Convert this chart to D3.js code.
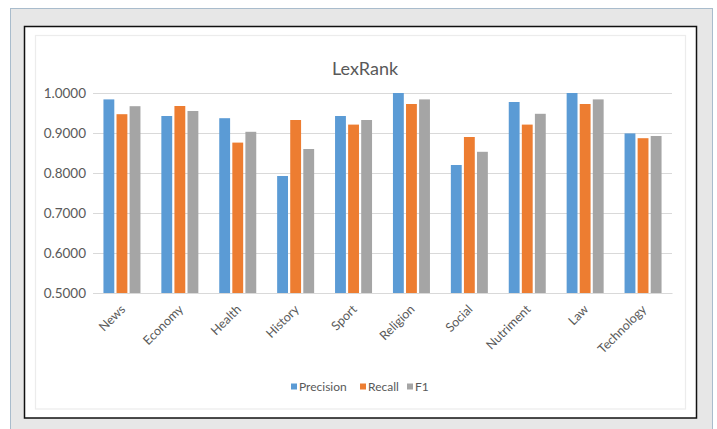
<!DOCTYPE html>
<html>
<head>
<meta charset="utf-8">
<script src="https://cdn.jsdelivr.net/npm/d3@7"></script>
<style>
  html, body { margin: 0; padding: 0; background: #ffffff; }
  svg { display: block; }
  text { font-family: Lato, "Open Sans", sans-serif; fill: #595959; }
</style>
</head>
<body>
<svg id="chart" width="717" height="429"></svg>
<script>
// LexRank scores per news category
const categories = ["News", "Economy", "Health", "History", "Sport", "Religion", "Social", "Nutriment", "Law", "Technology"];
const seriesNames = ["Precision", "Recall", "F1"];
const precision = [0.984, 0.9425, 0.937, 0.7925, 0.9425, 1.0, 0.820, 0.9775, 1.0, 0.899];
const recall    = [0.947, 0.9675, 0.876, 0.9325, 0.921, 0.9725, 0.890, 0.921, 0.9725, 0.887];
const f1        = [0.967, 0.955, 0.903, 0.860, 0.9325, 0.984, 0.853, 0.948, 0.984, 0.8925];
const yTicks = [0.5, 0.6, 0.7, 0.8, 0.9, 1.0];
const colors = ["#5B9BD5", "#ED7D31", "#A5A5A5"];

const series = [precision, recall, f1];
const rows = categories.map((c, i) => ({ category: c, values: series.map((s, k) => ({ key: seriesNames[k], value: s[i] })) }));

const svg = d3.select("#chart");

// Window frame, black border and chart area border
svg.append("rect").attr("x", 10.5).attr("y", 8.5).attr("width", 702).attr("height", 425)
  .attr("fill", "#e7e7e7").attr("stroke", "#a9bccc").attr("stroke-width", 1);
svg.append("rect").attr("x", 24.5).attr("y", 26.5).attr("width", 672).attr("height", 391.5)
  .attr("fill", "#ffffff").attr("stroke", "#111111").attr("stroke-width", 1.5);
svg.append("rect").attr("x", 35.5).attr("y", 35.5).attr("width", 650).attr("height", 373.5)
  .attr("fill", "#ffffff").attr("stroke", "#ececec").attr("stroke-width", 1.2);

const margin = { left: 93, right: 672, top: 93, bottom: 293 };

const x = d3.scaleBand().domain(categories).range([margin.left, margin.right]).paddingInner(0).paddingOuter(0);
const groupWidth = 37;
const x1 = d3.scaleBand().domain(seriesNames).range([0, groupWidth]).paddingInner(0.17);
const y = d3.scaleLinear().domain([0.5, 1.0]).range([margin.bottom, margin.top]);

// Horizontal gridlines
svg.append("g")
  .attr("transform", `translate(${margin.left},0)`)
  .call(d3.axisLeft(y).tickValues(yTicks).tickSize(-(margin.right - margin.left)).tickFormat(d3.format(".4f")).tickPadding(7))
  .call(g => g.select(".domain").remove())
  .call(g => g.selectAll(".tick line").attr("stroke", "#d9d9d9").attr("stroke-width", 1))
  .call(g => g.selectAll(".tick text").style("font-size", "13.5px").attr("fill", "#595959")
    .style("font-family", "Lato, 'Open Sans', sans-serif"));

// Bars
const groups = svg.append("g").selectAll("g").data(rows).join("g")
  .attr("transform", d => `translate(${x(d.category) + (x.bandwidth() - groupWidth) / 2},0)`);
groups.selectAll("rect").data(d => d.values).join("rect")
  .attr("x", d => x1(d.key))
  .attr("width", x1.bandwidth())
  .attr("y", d => y(d.value))
  .attr("height", d => y(0.5) - y(d.value))
  .attr("fill", (d, i) => colors[i]);

// Category axis
const xAxis = svg.append("g")
  .attr("transform", `translate(0,${margin.bottom})`)
  .call(d3.axisBottom(x).tickSize(0).tickPadding(0));
xAxis.select(".domain").attr("stroke", "#d9d9d9");
xAxis.selectAll(".tick text")
  .style("font-size", "12.5px")
  .style("font-family", "Lato, 'Open Sans', sans-serif")
  .attr("fill", "#595959")
  .attr("text-anchor", "end")
  .attr("dy", "0.35em")
  .attr("transform", "translate(1,14) rotate(-45)");

// Title
svg.append("text").attr("x", 365).attr("y", 75).attr("text-anchor", "middle")
  .style("font-size", "18px").text("LexRank");

// Legend
const legendItems = [
  { name: "Precision", x: 291 },
  { name: "Recall", x: 360 },
  { name: "F1", x: 407 }
];
const legend = svg.append("g").selectAll("g").data(legendItems).join("g")
  .attr("transform", d => `translate(${d.x},387)`);
legend.append("rect").attr("x", 0).attr("y", -3.5).attr("width", 6).attr("height", 6)
  .attr("fill", (d, i) => colors[i]);
legend.append("text").attr("x", 8).attr("y", 0).attr("dy", "0.35em")
  .style("font-size", "12px").text(d => d.name);
</script>
</body>
</html>
